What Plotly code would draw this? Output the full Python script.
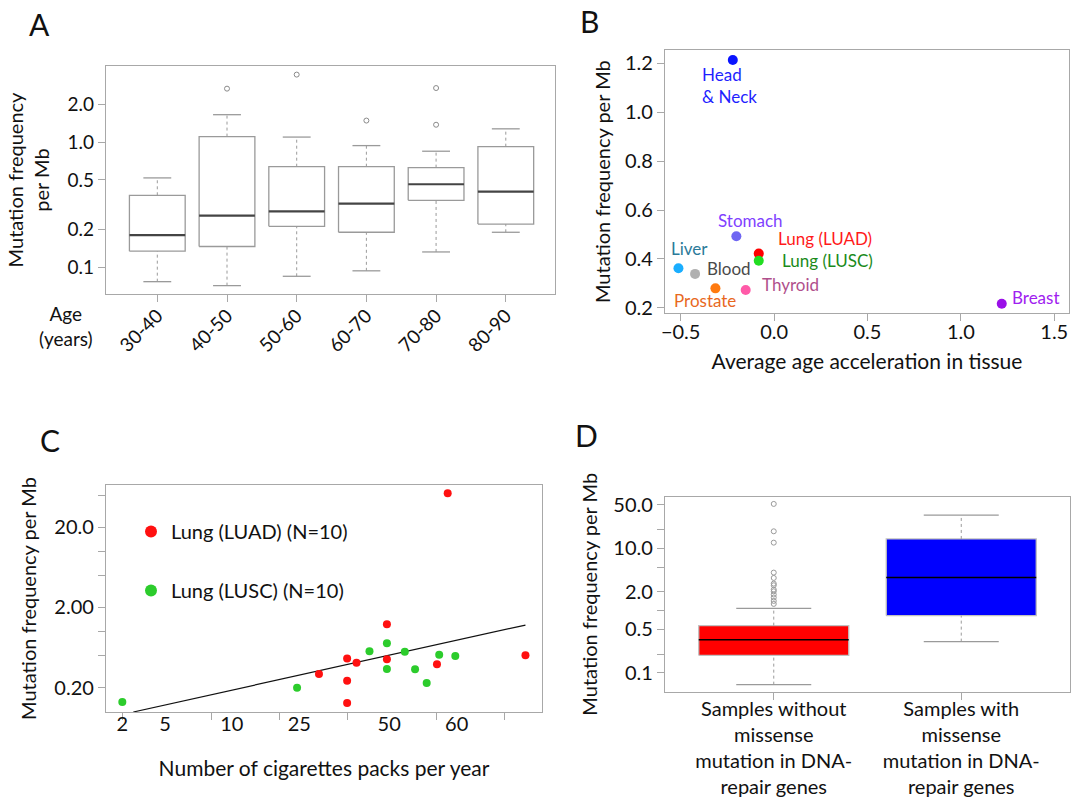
import math
import plotly.graph_objects as go

W, H = 1072, 799
FONT = "Lato"
TXT = "#111111"
AX = "#a8a8a8"

# ---------------- Panel A data ----------------
age_groups = ["30-40", "40-50", "50-60", "60-70", "70-80", "80-90"]
a_low = [0.077, 0.0716, 0.085, 0.094, 0.133, 0.191]
a_q1 = [0.135, 0.147, 0.213, 0.191, 0.344, 0.222]
a_med = [0.181, 0.259, 0.281, 0.323, 0.462, 0.403]
a_q3 = [0.377, 1.11, 0.638, 0.638, 0.627, 0.922]
a_high = [0.519, 1.66, 1.10, 0.94, 0.848, 1.28]
a_out_group = ["40-50", "50-60", "60-70", "70-80", "70-80"]
a_out_val = [2.68, 3.47, 1.49, 2.71, 1.38]

# ---------------- Panel B data ----------------
tissues = ["Head<br>& Neck", "Stomach", "Lung (LUAD)", "Lung (LUSC)", "Liver",
           "Blood", "Prostate", "Thyroid", "Breast"]
b_accel = [-0.221, -0.202, -0.082, -0.082, -0.512, -0.423, -0.314, -0.152, 1.219]
b_mut = [1.213, 0.493, 0.422, 0.393, 0.362, 0.339, 0.280, 0.273, 0.217]
b_point_colors = ["#0a14ff", "#6f66f2", "#ff0000", "#22dd22", "#1aaeff",
                  "#b0b0b0", "#ff7a10", "#ff5aa8", "#9a10e8"]
b_text_colors = ["#1f1fff", "#8040ff", "#ff1a1a", "#1a8a1a", "#2b7a99",
                 "#4a4a4a", "#e8681e", "#b04f8c", "#a020f0"]
# label anchor positions (left edge, vertical middle) in data units
b_label_x = [-0.396, -0.312, 0.009, 0.032, -0.562, -0.371, -0.548, -0.075, 1.263]
b_label_y = [1.108, 0.558, 0.485, 0.393, 0.442, 0.363, 0.232, 0.297, 0.242]

# ---------------- Panel C data ----------------
# x in the plot's own axis units (labels 2,5,10,25,50,60 sit at c_tick_pos)
c_tick_labels = ["2", "5", "10", "25", "50", "60"]
c_tick_pos = [2, 11.55, 26.5, 41.6, 61.7, 76.8]
c_minor_pos = [2, 22, 37.1, 52.3, 72.4, 87.4]
luad_x = [74.8, 61.2, 52.3, 61.2, 54.4, 72.4, 46.0, 52.3, 52.3, 92.2]
luad_y = [52.6, 1.23, 0.463, 0.450, 0.408, 0.390, 0.295, 0.244, 0.129, 0.505]
lusc_x = [2.0, 41.1, 57.3, 61.2, 65.2, 61.2, 67.5, 70.1, 72.9, 76.5]
lusc_y = [0.133, 0.199, 0.566, 0.713, 0.560, 0.341, 0.339, 0.228, 0.514, 0.495]
fit_x = [4.46, 92.2]
fit_y = [0.0996, 1.204]

# ---------------- Panel D data ----------------
d_groups = ["Samples without<br>missense<br>mutation in DNA-<br>repair genes",
            "Samples with<br>missense<br>mutation in DNA-<br>repair genes"]
d_low = [0.0649, 0.318]
d_q1 = [0.1916, 0.831]
d_med = [0.342, 3.39]
d_q3 = [0.574, 14.1]
d_high = [1.089, 33.9]
d_fill = ["#ff0000", "#0000ff"]
d_out_val = [51.4, 18.7, 12.3, 4.07, 3.34, 2.71, 2.55, 2.17, 2.04, 1.81, 1.62, 1.43, 1.28]


def box_traces(pos, low, q1, med, q3, high, xa, ya, half=0.4, cap=0.2,
               fill=None, outline="#9a9a9a", med_color="#444444", med_w=2.2):
    traces = []
    for i, p in enumerate(pos):
        traces.append(go.Scatter(
            x=[p - half, p + half, p + half, p - half, p - half],
            y=[q1[i], q1[i], q3[i], q3[i], q1[i]],
            mode="lines", line=dict(color=outline, width=1.3),
            fill="toself" if fill else None,
            fillcolor=fill[i] if fill else None,
            xaxis=xa, yaxis=ya, showlegend=False, hoverinfo="skip"))
        traces.append(go.Scatter(
            x=[p, p, None, p, p], y=[q3[i], high[i], None, low[i], q1[i]],
            mode="lines", line=dict(color="#9a9a9a", width=1, dash="dot"),
            xaxis=xa, yaxis=ya, showlegend=False, hoverinfo="skip"))
        traces.append(go.Scatter(
            x=[p - cap, p + cap, None, p - cap, p + cap],
            y=[high[i], high[i], None, low[i], low[i]],
            mode="lines", line=dict(color="#9a9a9a", width=1.3),
            xaxis=xa, yaxis=ya, showlegend=False, hoverinfo="skip"))
        traces.append(go.Scatter(
            x=[p - half, p + half], y=[med[i], med[i]],
            mode="lines", line=dict(color=med_color, width=med_w),
            xaxis=xa, yaxis=ya, showlegend=False, hoverinfo="skip"))
    return traces


fig = go.Figure()

# ---- A ----
a_pos = list(range(len(age_groups)))
for t in box_traces(a_pos, a_low, a_q1, a_med, a_q3, a_high, "x", "y"):
    fig.add_trace(t)
fig.add_trace(go.Scatter(
    x=[age_groups.index(g) for g in a_out_group], y=a_out_val, mode="markers",
    marker=dict(symbol="circle-open", size=5, color="#8a8a8a", line=dict(width=1)),
    xaxis="x", yaxis="y", showlegend=False))

# ---- B ----
fig.add_trace(go.Scatter(
    x=b_accel, y=b_mut, mode="markers",
    marker=dict(size=10, color=b_point_colors),
    xaxis="x2", yaxis="y2", showlegend=False))

# ---- C ----
fig.add_trace(go.Scatter(
    x=fit_x, y=fit_y, mode="lines", line=dict(color="#111111", width=1.2),
    xaxis="x3", yaxis="y3", showlegend=False))
fig.add_trace(go.Scatter(
    x=luad_x, y=luad_y, mode="markers", name="Lung (LUAD) (N=10)",
    marker=dict(size=8, color="#ff1010"), legendgroup="luad",
    xaxis="x3", yaxis="y3"))
fig.add_trace(go.Scatter(
    x=lusc_x, y=lusc_y, mode="markers", name="Lung (LUSC) (N=10)",
    marker=dict(size=8, color="#2ccc2c"), legendgroup="lusc",
    xaxis="x3", yaxis="y3"))

# ---- D ----
d_pos = [0, 1]
for t in box_traces(d_pos, d_low, d_q1, d_med, d_q3, d_high, "x4", "y4",
                    fill=d_fill, outline="#c0c0c0", med_color="#000000", med_w=1.5):
    fig.add_trace(t)
fig.add_trace(go.Scatter(
    x=[0] * len(d_out_val), y=d_out_val, mode="markers",
    marker=dict(symbol="circle-open", size=5, color="#9a9a9a", line=dict(width=1)),
    xaxis="x4", yaxis="y4", showlegend=False))


def dom_x(a, b):
    return [a / W, b / W]


def dom_y(top, bottom):
    return [1 - bottom / H, 1 - top / H]


common = dict(showline=True, mirror=True, linecolor=AX, linewidth=1.2,
              ticks="outside", ticklen=7, tickcolor=AX, tickwidth=1,
              showgrid=False, zeroline=False, automargin=False,
              tickfont=dict(family=FONT, size=20, color=TXT))
title_font = dict(family=FONT, size=20, color=TXT)
title_font_big = dict(family=FONT, size=21, color=TXT)

fig.update_layout(
    width=W, height=H, margin=dict(l=0, r=0, t=0, b=0),
    paper_bgcolor="white", plot_bgcolor="white",
    font=dict(family=FONT, color=TXT),
    legend=dict(x=131 / W, y=1 - 512 / H, xanchor="left", yanchor="top",
                font=dict(family=FONT, size=20, color=TXT),
                bgcolor="rgba(0,0,0,0)", tracegroupgap=30, itemsizing="constant"),
    xaxis=dict(common, domain=dom_x(106, 555), anchor="y",
               range=[-0.736, 5.706], tickvals=a_pos, ticktext=age_groups,
               tickangle=-45, ticklabelstandoff=-5,
               tickfont=dict(family=FONT, size=19, color=TXT)),
    yaxis=dict(common, domain=dom_y(66, 294), anchor="x", type="log",
               range=[-1.212, 0.609], tickvals=[2, 1, 0.5, 0.2, 0.1],
               ticktext=["2.0", "1.0", "0.5", "0.2", "0.1"],
               tickfont=dict(family=FONT, size=19, color=TXT),
               title=dict(text="Mutation frequency<br>per Mb", font=title_font, standoff=12)),
    xaxis2=dict(common, domain=dom_x(665, 1069), anchor="y2",
                range=[-0.584, 1.579], tickvals=[-0.5, 0, 0.5, 1, 1.5], tickformat=".1f",
                ticklabelstandoff=-6,
                title=dict(text="Average age acceleration in tissue", font=title_font_big, standoff=11)),
    yaxis2=dict(common, domain=dom_y(50, 313.3), anchor="x2",
                range=[0.178, 1.254], tickvals=[0.2, 0.4, 0.6, 0.8, 1.0, 1.2], tickformat=".1f",
                title=dict(text="Mutation frequency per Mb", font=title_font, standoff=8)),
    xaxis3=dict(common, domain=dom_x(106, 542), anchor="y3",
                range=[-1.65, 95.9], tickvals=c_tick_pos, ticktext=c_tick_labels,
                ticks="", ticklabelstandoff=-6,
                minor=dict(tickvals=c_minor_pos, ticks="outside", ticklen=7,
                           tickcolor=AX, showgrid=False),
                title=dict(text="Number of cigarettes packs per year", font=title_font_big, standoff=27)),
    yaxis3=dict(common, domain=dom_y(485, 712), anchor="x3", type="log",
                range=[-1.002, 1.824], tickvals=[50, 20, 10, 5, 2, 1, 0.5, 0.2],
                ticktext=["", "20.0", "", "", "2.00", "", "", "0.20"],
                title=dict(text="Mutation frequency per Mb", font=title_font, standoff=12)),
    xaxis4=dict(common, domain=dom_x(665, 1070), anchor="y4",
                range=[-0.58, 1.58], tickvals=d_pos, ticktext=d_groups,
                ticklabelstandoff=-8),
    yaxis4=dict(common, domain=dom_y(496.7, 691.7), anchor="x4", type="log",
                range=[-1.301, 1.827], tickvals=[50, 20, 10, 5, 2, 1, 0.5, 0.2, 0.1],
                ticktext=["50.0", "", "10.0", "", "2.0", "", "0.5", "", "0.1"],
                title=dict(text="Mutation frequency per Mb", font=title_font, standoff=10)),
)

annotations = []
for name, lx, ly, col in zip(tissues, b_label_x, b_label_y, b_text_colors):
    annotations.append(dict(text=name, x=lx, y=ly, xref="x2", yref="y2",
                            xanchor="left", yanchor="middle", align="left",
                            showarrow=False, font=dict(family=FONT, size=17, color=col)))
for letter, cx, cy in [("A", 39, 24), ("B", 589, 21), ("C", 50, 440), ("D", 586, 435)]:
    annotations.append(dict(text=letter, x=cx / W, y=1 - cy / H, xref="paper", yref="paper",
                            xanchor="center", yanchor="middle", showarrow=False,
                            font=dict(family=FONT, size=30, color=TXT)))
annotations.append(dict(text="Age<br>(years)", x=66 / W, y=1 - 326 / H, xref="paper", yref="paper",
                        xanchor="center", yanchor="middle", align="center", showarrow=False,
                        font=dict(family=FONT, size=19, color=TXT)))
fig.update_layout(annotations=annotations)

fig.write_html("out.html", config=dict(displayModeBar=False),
               post_script="document.body.style.margin='0';document.body.style.overflow='hidden';")
